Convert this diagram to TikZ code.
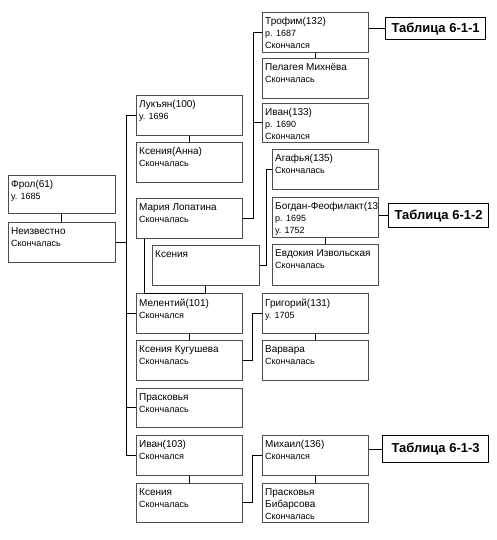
\documentclass[tikz,border=0pt]{standalone}
\usepackage{fontspec}
\setmainfont{Liberation Sans}
\usepackage{tikz}

\newcommand{\nm}[1]{{\fontsize{10pt}{12pt}\selectfont #1}}

\begin{document}
\begin{tikzpicture}[x=1pt, y=-1pt,
    pers/.style={draw=black!70, line width=0.7pt, rectangle, anchor=north west,
        minimum width=106pt, minimum height=40pt, inner sep=0pt},
    txt/.style={anchor=north west, align=left, inner sep=0pt, xshift=3pt, yshift=-5.5pt,
        font=\fontsize{9pt}{12pt}\selectfont},
    tabl/.style={draw, line width=1.2pt, anchor=north west, minimum width=100pt,
        minimum height=22pt, inner sep=0pt, font=\bfseries\fontsize{13pt}{15pt}\selectfont},
    link/.style={line width=0.8pt}]

    \fill[white] (0,0) rectangle (497,540);
    \useasboundingbox (0,0) rectangle (497,540);

    % first generation
    \node[pers, minimum width=107pt, minimum height=38pt,
        label={[txt]north west:{\nm{Фрол(61)}\\у. 1685}}] (frol) at (8,175) {};
    \node[pers, minimum width=107pt,
        label={[txt]north west:{\nm{Неизвестно}\\Скончалась}}] (neizv) at (8,222) {};

    % second generation
    \node[pers, label={[txt]north west:{\nm{Лукъян(100)}\\у. 1696}}] (lukyan) at (136,95) {};
    \node[pers, label={[txt]north west:{\nm{Ксения(Анна)}\\Скончалась}}] (kseniaanna) at (136,142) {};
    \node[pers, label={[txt]north west:{\nm{Мария Лопатина}\\Скончалась}}] (maria) at (136,198) {};
    \node[pers, minimum width=107pt, label={[txt]north west:{\nm{Ксения}}}] (ksenia) at (152,245) {};
    \node[pers, label={[txt]north west:{\nm{Мелентий(101)}\\Скончался}}] (melenty) at (136,293) {};
    \node[pers, label={[txt]north west:{\nm{Ксения Кугушева}\\Скончалась}}] (kugusheva) at (136,340) {};
    \node[pers, minimum height=39pt, label={[txt]north west:{\nm{Прасковья}\\Скончалась}}] (praskovya) at (136,388) {};
    \node[pers, label={[txt]north west:{\nm{Иван(103)}\\Скончался}}] (ivan103) at (136,435) {};
    \node[pers, minimum height=39pt, label={[txt]north west:{\nm{Ксения}\\Скончалась}}] (ksenia3) at (136,483) {};

    % third generation
    \node[pers, label={[txt]north west:{\nm{Трофим(132)}\\р. 1687\\Скончался}}] (trofim) at (262,12) {};
    \node[pers, label={[txt]north west:{\nm{Пелагея Михнёва}\\Скончалась}}] (pelageya) at (262,58) {};
    \node[pers, minimum height=39pt, label={[txt]north west:{\nm{Иван(133)}\\р. 1690\\Скончался}}] (ivan133) at (262,103) {};
    \node[pers, label={[txt]north west:{\nm{Агафья(135)}\\Скончалась}}] (agafya) at (272,149) {};
    \node[pers, label={[txt]north west:{\nm{Богдан-Феофилакт(13}\\р. 1695\\у. 1752}}] (bogdan) at (272,197) {};
    \node[pers, minimum height=41pt, label={[txt]north west:{\nm{Евдокия Извольская}\\Скончалась}}] (evdokia) at (272,244) {};
    \node[pers, label={[txt]north west:{\nm{Григорий(131)}\\у. 1705}}] (grigory) at (262,293) {};
    \node[pers, label={[txt]north west:{\nm{Варвара}\\Скончалась}}] (varvara) at (262,340) {};
    \node[pers, label={[txt]north west:{\nm{Михаил(136)}\\Скончался}}] (mikhail) at (262,435) {};
    \node[pers, minimum height=39pt, label={[txt]north west:{\nm{Прасковья}\\\nm{Бибарсова}\\Скончалась}}] (praskovyab) at (262,483) {};

    % references
    \node[tabl] (tab1) at (385,17) {Таблица 6-1-1};
    \node[tabl, minimum height=24pt] (tab2) at (388,203) {Таблица 6-1-2};
    \node[tabl, minimum width=106pt, minimum height=27pt] (tab3) at (382,435) {Таблица 6-1-3};

    % connectors
    \coordinate (spine) at (126,0);
    \coordinate (spineb) at (253,0);
    \coordinate (spinec) at (266,0);

    \draw[link] (frol) -- (neizv);
    \draw[link] (lukyan.west -| spine) -- (ivan103.west -| spine);
    \foreach \p in {lukyan, melenty, praskovya, ivan103}
        \draw[link] (\p.west) -- (\p.west -| spine);
    \draw[link] (neizv.east) -- (neizv.east -| spine);
    \draw[link] (lukyan) -- (kseniaanna);

    \draw[link] (maria.east) -- (maria.east -| spineb) |- (trofim.west);
    \draw[link] (ivan133.west) -- (ivan133.west -| spineb);
    \draw[link] (trofim) -- (pelageya);
    \draw[link] (tab1.west) -- (tab1.west -| trofim.east);

    \draw[link] (ksenia.east) -- (ksenia.east -| spinec) |- (agafya.west);
    \draw[link] (bogdan) -- (evdokia);
    \draw[link] (tab2.west) -- (tab2.west -| bogdan.east);

    \draw[link] ([xshift=8pt]maria.south west) |- (ksenia.south |- melenty.north) -- (ksenia.south);
    \draw[link] (melenty) -- (kugusheva);
    \draw[link] (kugusheva.east) -- ++(10,0) |- (grigory.west);
    \draw[link] (grigory) -- (varvara);

    \draw[link] (ivan103) -- (ksenia3);
    \draw[link] (ksenia3.east) -- ++(10,0) |- (mikhail.west);
    \draw[link] (mikhail) -- (praskovyab);
    \draw[link] (tab3.west) -- (tab3.west -| mikhail.east);

\end{tikzpicture}
\end{document}
